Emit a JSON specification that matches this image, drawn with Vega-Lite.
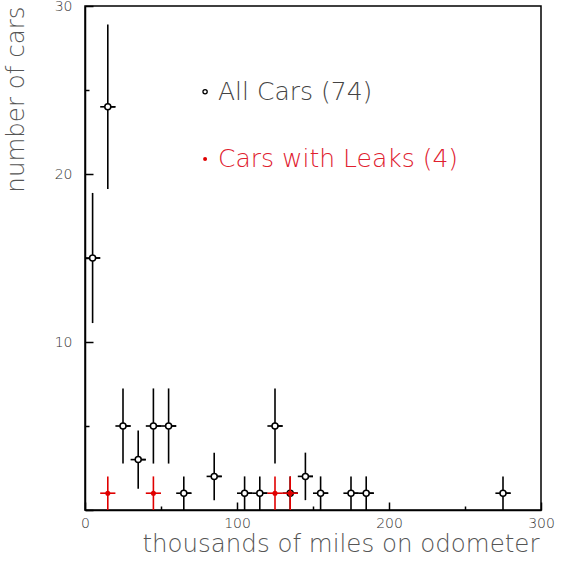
{
  "$schema": "https://vega.github.io/schema/vega-lite/v6.json",
  "width": 456,
  "height": 504,
  "autosize": "none",
  "padding": {"left": 85, "top": 6, "right": 26, "bottom": 57},
  "background": "white",
  "config": {
    "view": {"stroke": "black", "strokeWidth": 1.5},
    "font": "DejaVu Sans"
  },
  "datasets": {
    "pts": [
      {"series": "all", "x": 5, "xlo": 0, "xhi": 10, "n": 15, "ylo": 11.127, "yhi": 18.873},
      {"series": "all", "x": 15, "xlo": 10, "xhi": 20, "n": 24, "ylo": 19.101, "yhi": 28.899},
      {"series": "all", "x": 25, "xlo": 20, "xhi": 30, "n": 5, "ylo": 2.764, "yhi": 7.236},
      {"series": "all", "x": 35, "xlo": 30, "xhi": 40, "n": 3, "ylo": 1.268, "yhi": 4.732},
      {"series": "all", "x": 45, "xlo": 40, "xhi": 50, "n": 5, "ylo": 2.764, "yhi": 7.236},
      {"series": "all", "x": 55, "xlo": 50, "xhi": 60, "n": 5, "ylo": 2.764, "yhi": 7.236},
      {"series": "all", "x": 65, "xlo": 60, "xhi": 70, "n": 1, "ylo": 0, "yhi": 2},
      {"series": "all", "x": 85, "xlo": 80, "xhi": 90, "n": 2, "ylo": 0.586, "yhi": 3.414},
      {"series": "all", "x": 105, "xlo": 100, "xhi": 110, "n": 1, "ylo": 0, "yhi": 2},
      {"series": "all", "x": 115, "xlo": 110, "xhi": 120, "n": 1, "ylo": 0, "yhi": 2},
      {"series": "all", "x": 125, "xlo": 120, "xhi": 130, "n": 5, "ylo": 2.764, "yhi": 7.236},
      {"series": "all", "x": 135, "xlo": 130, "xhi": 140, "n": 1, "ylo": 0, "yhi": 2},
      {"series": "all", "x": 145, "xlo": 140, "xhi": 150, "n": 2, "ylo": 0.586, "yhi": 3.414},
      {"series": "all", "x": 155, "xlo": 150, "xhi": 160, "n": 1, "ylo": 0, "yhi": 2},
      {"series": "all", "x": 175, "xlo": 170, "xhi": 180, "n": 1, "ylo": 0, "yhi": 2},
      {"series": "all", "x": 185, "xlo": 180, "xhi": 190, "n": 1, "ylo": 0, "yhi": 2},
      {"series": "all", "x": 275, "xlo": 270, "xhi": 280, "n": 1, "ylo": 0, "yhi": 2}
    ],
    "leaks": [
      {"series": "leaks", "x": 15, "xlo": 10, "xhi": 20, "n": 1, "ylo": 0, "yhi": 2},
      {"series": "leaks", "x": 45, "xlo": 40, "xhi": 50, "n": 1, "ylo": 0, "yhi": 2},
      {"series": "leaks", "x": 125, "xlo": 120, "xhi": 130, "n": 1, "ylo": 0, "yhi": 2},
      {"series": "leaks", "x": 135, "xlo": 130, "xhi": 140, "n": 1, "ylo": 0, "yhi": 2}
    ],
    "legend": [
      {"x": 79, "y": 24.9, "tx": 87.5, "label": "All Cars (74)", "series": "all"},
      {"x": 79, "y": 20.9, "tx": 87.5, "label": "Cars with Leaks (4)", "series": "leaks"}
    ]
  },
  "layer": [
    {
      "data": {"name": "pts"},
      "mark": {"type": "rule", "color": "black", "strokeWidth": 1.6, "clip": true},
      "encoding": {
        "x": {
          "field": "x", "type": "quantitative",
          "scale": {"domain": [0, 300], "nice": false},
          "axis": {
            "values": [0, 50, 100, 150, 200, 250, 300],
            "labelExpr": "datum.value % 100 === 0 ? datum.label : ''",
            "grid": false,
            "domainColor": "black", "domainWidth": 1.5,
            "tickColor": "black", "tickWidth": 1.5,
            "tickSize": {"condition": {"test": "datum.value % 100 === 0", "value": -8}, "value": -4},
            "labelPadding": 14,
            "labelFontSize": 14, "labelColor": "#333", "labelFont": "DejaVu Sans", "labelFontWeight": 200,
            "labelFlush": false,
            "title": "thousands of miles on odometer",
            "titleFontSize": 24.5, "titleFontWeight": 200, "titleColor": "#555",
            "titleAnchor": "end", "titleAlign": "right", "titleBaseline": "alphabetic",
            "titleX": 454, "titleY": 41
          }
        },
        "y": {"field": "n", "type": "quantitative"},
        "y2": {"field": "n"},
        "x2": {"field": "xhi"}
      }
    },
    {
      "data": {"name": "pts"},
      "mark": {"type": "rule", "color": "black", "strokeWidth": 1.6, "clip": true},
      "encoding": {
        "x": {"field": "xlo", "type": "quantitative"},
        "x2": {"field": "xhi"},
        "y": {
          "field": "n", "type": "quantitative",
          "scale": {"domain": [0, 30], "nice": false},
          "axis": {
            "values": [0, 5, 10, 15, 20, 25, 30],
            "labelExpr": "datum.value % 10 === 0 && datum.value > 0 ? datum.label : ''",
            "grid": false,
            "domainColor": "black", "domainWidth": 1.5,
            "tickColor": "black", "tickWidth": 1.5,
            "tickSize": {"condition": {"test": "datum.value % 10 === 0", "value": -8}, "value": -4},
            "labelPadding": 21,
            "labelFontSize": 14, "labelColor": "#333", "labelFontWeight": 200,
            "labelFlush": false,
            "title": "number of cars",
            "titleFontSize": 24.5, "titleFontWeight": 200, "titleColor": "#555",
            "titleAngle": 270,
            "titleAnchor": "end", "titleAlign": "right", "titleBaseline": "middle",
            "titleX": -69, "titleY": 0
          }
        }
      }
    },
    {
      "data": {"name": "pts"},
      "mark": {"type": "rule", "color": "black", "strokeWidth": 1.6, "clip": true},
      "encoding": {
        "x": {"field": "x", "type": "quantitative"},
        "y": {"field": "ylo", "type": "quantitative"},
        "y2": {"field": "yhi"}
      }
    },
    {
      "data": {"name": "pts"},
      "mark": {"type": "point", "shape": "circle", "filled": false, "fill": "white", "fillOpacity": 1, "stroke": "black", "strokeWidth": 1.5, "size": 36, "opacity": 1},
      "encoding": {
        "x": {"field": "x", "type": "quantitative"},
        "y": {"field": "n", "type": "quantitative"}
      }
    },
    {
      "data": {"name": "leaks"},
      "mark": {"type": "rule", "color": "#e00000", "strokeWidth": 1.6},
      "encoding": {
        "x": {"field": "xlo", "type": "quantitative"},
        "x2": {"field": "xhi"},
        "y": {"field": "n", "type": "quantitative"}
      }
    },
    {
      "data": {"name": "leaks"},
      "mark": {"type": "rule", "color": "#e00000", "strokeWidth": 1.6},
      "encoding": {
        "x": {"field": "x", "type": "quantitative"},
        "y": {"field": "ylo", "type": "quantitative"},
        "y2": {"field": "yhi"}
      }
    },
    {
      "data": {"name": "leaks"},
      "mark": {"type": "point", "shape": "circle", "filled": true, "color": "#e00000", "size": 26, "opacity": 1},
      "encoding": {
        "x": {"field": "x", "type": "quantitative"},
        "y": {"field": "n", "type": "quantitative"}
      }
    },
    {
      "data": {"name": "legend"},
      "transform": [{"filter": "datum.series === 'all'"}],
      "mark": {"type": "point", "shape": "circle", "filled": false, "stroke": "black", "strokeWidth": 1.3, "size": 18, "opacity": 1},
      "encoding": {
        "x": {"field": "x", "type": "quantitative"},
        "y": {"field": "y", "type": "quantitative"}
      }
    },
    {
      "data": {"name": "legend"},
      "transform": [{"filter": "datum.series === 'leaks'"}],
      "mark": {"type": "point", "shape": "circle", "filled": true, "color": "#e00000", "size": 16, "opacity": 1},
      "encoding": {
        "x": {"field": "x", "type": "quantitative"},
        "y": {"field": "y", "type": "quantitative"}
      }
    },
    {
      "data": {"name": "legend"},
      "mark": {"type": "text", "align": "left", "baseline": "middle", "fontSize": 25, "fontWeight": 200, "font": "DejaVu Sans"},
      "encoding": {
        "x": {"field": "tx", "type": "quantitative"},
        "y": {"field": "y", "type": "quantitative"},
        "text": {"field": "label"},
        "color": {
          "field": "series", "type": "nominal",
          "scale": {"domain": ["all", "leaks"], "range": ["#444444", "#e0202e"]},
          "legend": null
        }
      }
    }
  ]
}
